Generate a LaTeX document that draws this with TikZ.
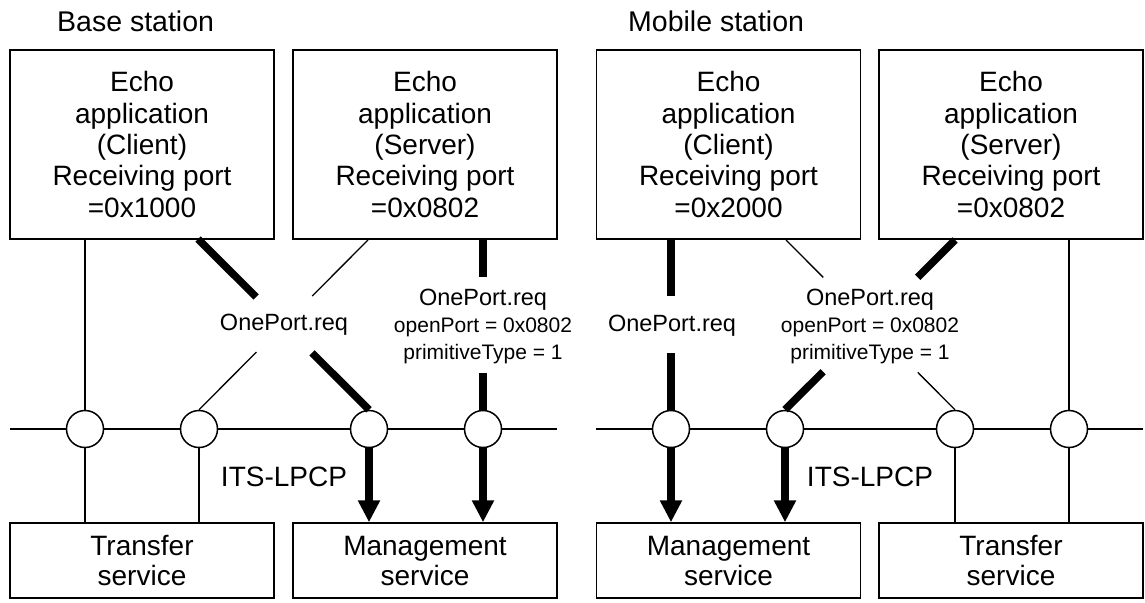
\documentclass[tikz,border=0pt]{standalone}
\usepackage{fontspec}
\setmainfont{Liberation Sans}
\usetikzlibrary{arrows.meta,calc}
\begin{document}
\begin{tikzpicture}[x=1pt,y=-1pt,
  box/.style={draw,line width=1.5pt,inner sep=0pt,align=center,
    font=\fontsize{28}{31.3}\selectfont},
  appbox/.style={box,minimum width=264pt,minimum height=189pt},
  svcbox/.style={box,minimum width=264pt,minimum height=75pt,
    font=\fontsize{28}{30}\selectfont},
  port/.style={circle,draw,fill=white,line width=1.5pt,minimum size=37pt,inner sep=0pt},
  thinline/.style={line width=1.3pt},
  thickline/.style={line width=7.5pt},
  thickarrow/.style={line width=7.5pt,-{Triangle[length=22pt,width=21pt]}},
  header/.style={anchor=base west,font=\fontsize{28.5}{30}\selectfont,inner sep=0pt},
  req/.style={font=\fontsize{23.5}{27}\selectfont,inner sep=0pt},
  reqblock/.style={font=\fontsize{21}{27}\selectfont,align=center,inner sep=0pt},
  lpcp/.style={font=\fontsize{28}{30}\selectfont,inner sep=0pt}
]
\useasboundingbox[fill=white] (0,0) rectangle (1145,602);

% ---------------- Base station ----------------
\node[header] (hb) at (57,32) {Base station};
\node[appbox] (bc) at (142,144.5) {Echo\\application\\(Client)\\Receiving port\\=0x1000};
\node[appbox] (bs) at (425,144.5) {Echo\\application\\(Server)\\Receiving port\\=0x0802};
\node[svcbox] (ts1) at (142,560.5) {Transfer\\service};
\node[svcbox] (ms1) at (425,560.5) {Management\\service};

\coordinate (busLa) at (10,429);
\coordinate (busLb) at (557,429);
\draw[thinline] (busLa) -- (busLb);
\node[port] (p1) at (85,429) {};
\node[port] (p2) at (199,429) {};
\node[port] (p3) at (369,429) {};
\node[port] (p4) at (483,429) {};

\node[req] (lA) at (284,325) {OnePort.req};
\node[reqblock] (lB) at (483,326) {{\fontsize{23.5}{27}\selectfont OnePort.req}\\openPort = 0x0802\\primitiveType = 1};
\node[lpcp] (itsA) at (284,477) {ITS-LPCP};

% thin verticals
\draw[thinline] (p1.north |- bc.south) -- (p1.north);
\draw[thinline] (p1.south) -- (p1.south |- ts1.north);
\draw[thinline] (p2.south) -- (p2.south |- ts1.north);

% X crossing
\coordinate (xa1) at (198,239);
\coordinate (xb1) at (368,240);
\draw[thickline] (xa1) -- ($(xa1)!0.34!(p3.north)$);
\draw[thickline] ($(xa1)!0.667!(p3.north)$) -- (p3.north);
\draw[thinline] (xb1) -- ($(xb1)!0.33!(p2.north)$);
\draw[thinline] ($(xb1)!0.66!(p2.north)$) -- (p2.north);

% thick vertical from server
\draw[thickline] (p4.north |- bs.south) -- (483,277);
\draw[thickline] (483,373) -- (p4.north);

% arrows into management service
\draw[thickarrow] (p3.south) -- (p3.south |- ms1.north);
\draw[thickarrow] (p4.south) -- (p4.south |- ms1.north);

% ---------------- Mobile station ----------------
\node[header] (hm) at (628,32) {Mobile station};
\node[appbox] (mc) at (728.5,144.5) {Echo\\application\\(Client)\\Receiving port\\=0x2000};
\node[appbox] (msv) at (1011,144.5) {Echo\\application\\(Server)\\Receiving port\\=0x0802};
\node[svcbox] (ms2) at (728.5,560.5) {Management\\service};
\node[svcbox] (ts2) at (1011,560.5) {Transfer\\service};

\coordinate (busRa) at (596,429);
\coordinate (busRb) at (1143,429);
\draw[thinline] (busRa) -- (busRb);
\node[port] (p5) at (671,429) {};
\node[port] (p6) at (785,429) {};
\node[port] (p7) at (955,429) {};
\node[port] (p8) at (1069,429) {};

\node[req] (lC) at (672,326) {OnePort.req};
\node[reqblock] (lD) at (870,326) {{\fontsize{23.5}{27}\selectfont OnePort.req}\\openPort = 0x0802\\primitiveType = 1};
\node[lpcp] (itsB) at (870,477) {ITS-LPCP};

% thick vertical from mobile client
\draw[thickline] (p5.north |- mc.south) -- (671,296);
\draw[thickline] (671,353) -- (p5.north);

% crossing lines
\coordinate (ya1) at (786,240);
\coordinate (yb1) at (955,240);
\draw[thinline] (ya1) -- ($(ya1)!0.22!(p7.north)$);
\draw[thinline] ($(ya1)!0.78!(p7.north)$) -- (p7.north);
\draw[thickline] (yb1) -- ($(yb1)!0.22!(p6.north)$);
\draw[thickline] ($(yb1)!0.776!(p6.north)$) -- (p6.north);

% thin vertical from mobile server
\draw[thinline] (p8.north |- msv.south) -- (p8.north);

% arrows into management service
\draw[thickarrow] (p5.south) -- (p5.south |- ms2.north);
\draw[thickarrow] (p6.south) -- (p6.south |- ms2.north);

% thin to transfer service
\draw[thinline] (p7.south) -- (p7.south |- ts2.north);
\draw[thinline] (p8.south) -- (p8.south |- ts2.north);
\end{tikzpicture}
\end{document}
